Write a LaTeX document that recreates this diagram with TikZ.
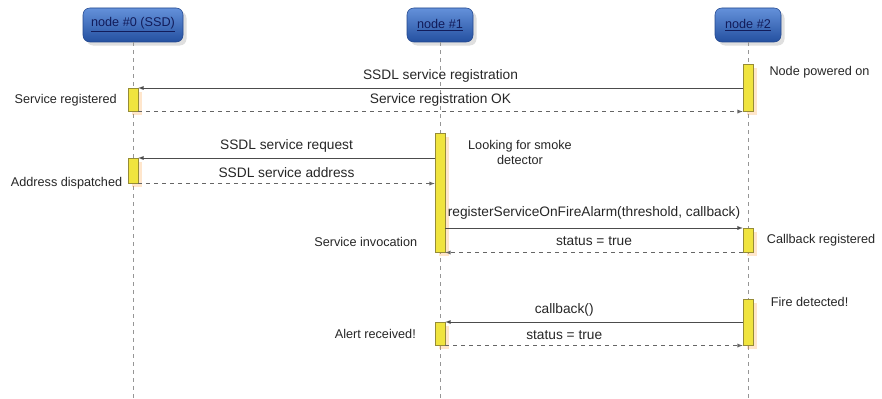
\documentclass[tikz,border=0pt]{standalone}
\usepackage{fontspec}
\setmainfont{Liberation Sans}
\usepackage{tikz}
\usetikzlibrary{positioning,shadows}
\definecolor{headtop}{RGB}{100,145,218}
\definecolor{headbot}{RGB}{36,80,160}
\definecolor{headline}{RGB}{34,70,140}
\definecolor{headtext}{RGB}{18,28,90}
\definecolor{barfill}{RGB}{240,228,62}
\definecolor{barline}{RGB}{150,140,55}
\definecolor{lifeline}{RGB}{150,150,150}

\begin{document}
\begin{tikzpicture}[auto,x=0.75pt,y=-0.75pt]
	\tikzstyle{head}=[rectangle,rounded corners=5pt,draw=headline,top color=headtop,bottom color=headbot,drop shadow={opacity=0.25},minimum height=25.5pt,font=\fontsize{9.5}{10}\selectfont,text=headtext]
	\tikzstyle{life}=[lifeline,dashed,thin]
	\tikzstyle{bar}=[rectangle,draw=barline,fill=barfill,minimum width=7.5pt,inner sep=0pt,anchor=north,drop shadow={opacity=0.2,fill=orange}]
	\tikzstyle{txt}=[inner sep=1pt,font=\fontsize{10.3}{12}\selectfont,text=black!85]
	\tikzstyle{side}=[inner sep=1pt,font=\fontsize{9.5}{11.5}\selectfont,text=black!85]
	\tikzstyle{call}=[-latex,black!70]
	\tikzstyle{back}=[-latex,black!60,dashed]
	\useasboundingbox (0,0) rectangle (882,399);
		\node[head, minimum width=75pt] (n0) at (133,25) {\underline{node \#0 (SSD)}};
		\node[head, minimum width=49.5pt] (n1) at (440,25) {\underline{node \#1}};
		\node[head, minimum width=49.5pt] (n2) at (748,25) {\underline{node \#2}};
		\coordinate (e0) at (133,399);
		\coordinate (e1) at (440,399);
		\coordinate (e2) at (748,399);
			\draw[life] (n0) -- (e0);
			\draw[life] (n1) -- (e1);
			\draw[life] (n2) -- (e2);
		\node[bar, minimum height=35.25pt] (b2a) at (748,64) {};
		\node[bar, minimum height=17.25pt] (b0a) at (133,88) {};
		\node[bar, minimum height=89.25pt] (b1a) at (440,133) {};
		\node[bar, minimum height=18.75pt] (b0b) at (133,158) {};
		\node[bar, minimum height=18pt] (b2b) at (748,228) {};
		\node[bar, minimum height=34.5pt] (b2c) at (748,299) {};
		\node[bar, minimum height=17.25pt] (b1b) at (440,322) {};
			\draw[call] (b2a.west |- b0a.north east) -- node[txt, above=3pt] {SSDL service registration} (b0a.north east);
			\draw[back] (b0a.south east) -- node[txt, above=3pt] {Service registration OK} (b2a.south west);
			\draw[call] (b1a.west |- b0b.north east) -- node[txt, above=3pt] {SSDL service request} (b0b.north east);
			\draw[back] (b0b.south east) -- node[txt, above=3pt] {SSDL service address} (b1a.west |- b0b.south east);
			\draw[call] (b1a.east |- b2b.north west) -- node[txt, above=5pt] {registerServiceOnFireAlarm(threshold, callback)} (b2b.north west);
			\draw[back] (b2b.south west) -- node[txt, above=4pt] {status = true} (b1a.south east);
			\draw[call] (b2c.west |- b1b.north east) -- node[txt, above=3pt, pos=0.6] {callback()} (b1b.north east);
			\draw[back] (b1b.south east) -- node[txt, above=3pt, pos=0.4] {status = true} (b2c.south west);
		\node[side, right=11pt of b2a.north east, yshift=-6pt] (np) {Node powered on};
		\node[side, left=7pt of b0a.west] (sr) {Service registered};
		\node[side, align=center, below right=4pt and 16pt of b1a.north east] (ls) {Looking for smoke\\detector};
		\node[side, left=3pt of b0b.south west] (ad) {Address dispatched};
		\node[side, left=12pt of b1a.south west, yshift=8pt] (si) {Service invocation};
		\node[side, right=9pt of b2b.east] (cr) {Callback registered};
		\node[side, right=12pt of b2c.north east, yshift=-2pt] (fd) {Fire detected!};
		\node[side, left=13pt of b1b.west] (ar) {Alert received!};
\end{tikzpicture}
\end{document}
